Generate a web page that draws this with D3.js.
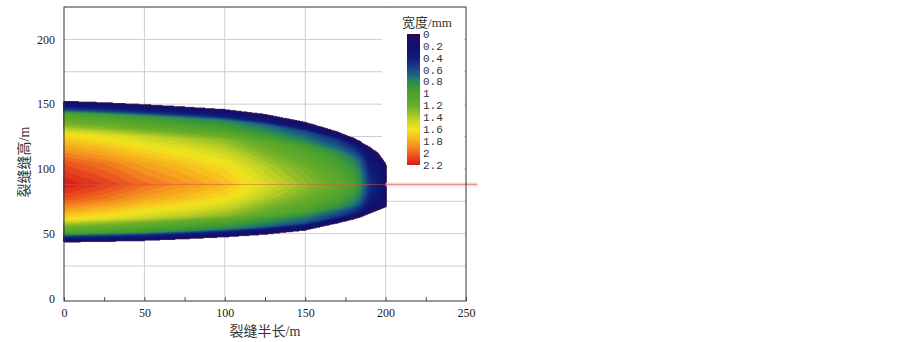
<!DOCTYPE html>
<html lang="zh">
<head>
<meta charset="UTF-8">
<title>裂缝宽度分布</title>
<script src="https://cdn.jsdelivr.net/npm/d3@7/dist/d3.min.js"></script>
<style>
  body { margin: 0; background: #fff; }
  svg { display: block; }
  .tick text { font-family: "Liberation Serif", "Times New Roman", serif; font-size: 12px; fill: #222; }
  .tick line { stroke: #555; }
  .grid line { stroke: #cdcdcd; stroke-width: 1; }
  .cap { font-family: "Liberation Serif", "Noto Sans CJK SC", serif; font-size: 14px; fill: #333; }
  .leg-lab { font-family: "Liberation Mono", "DejaVu Sans Mono", monospace; font-size: 11px; fill: #333; }
</style>
</head>
<body>
<svg width="903" height="342"></svg>
<script>
// stations along the fracture half-length (m)
const stations = [0, 25, 50, 75, 100, 125, 150, 170, 180, 184, 187, 190, 195, 199.5, 200];
// fracture top / bottom (m) at each station
const topEdge = [151.9, 150.8, 149.3, 147.5, 145.5, 141.8, 135.7, 128.4, 123.5, 121, 118.5, 116.5, 112.3, 104.6, 103];
const bottomEdge = [43.8, 44.3, 45, 46.3, 47.8, 49.8, 53, 58.5, 61.5, 63, 64.5, 66, 68.3, 70.6, 71];
// width at the centre depth (mm)
const centerWidth = [2.2, 2.1, 1.97, 1.87, 1.75, 1.52, 1.32, 1.13, 0.98, 0.85, 0.68, 0.5, 0.38, 0.25, 0.15];
const centerDepth = 88;
// vertical width profile: relative distance from centre -> fraction of centre width
const profT = [0, 0.25, 0.45, 0.6, 0.7, 0.8, 0.86, 0.9, 0.95, 1.0];
const profF = [1, 0.93, 0.83, 0.74, 0.6, 0.5, 0.44, 0.27, 0.16, 0.05];

// colour bar
const colorStops = [0, 0.1, 0.2, 0.4, 0.5, 0.6, 0.7, 0.8, 0.9, 1.0, 1.2, 1.3, 1.45, 1.6, 1.75, 1.9, 2.05, 2.2];
const colorHex = ["#2e0b4f", "#1f0d66", "#10106e", "#0f1a78", "#15307f", "#1a4a88", "#1f6a7a", "#2a8a55", "#3d9a35",
  "#4da22c", "#6aae28", "#8cbb28", "#c8d424", "#f2e51e", "#f8bb1e", "#f48a20", "#ea4f1e", "#d81a1a"];
const legendTicks = [0, 0.2, 0.4, 0.6, 0.8, 1, 1.2, 1.4, 1.6, 1.8, 2, 2.2];

const xTicks = [0, 50, 100, 150, 200, 250];
const xMinor = [0, 25, 50, 75, 100, 125, 150, 175, 200, 225, 250];
const yTicks = [0, 50, 100, 150, 200];
const yGrid = [25, 50, 75, 100, 125, 150, 175, 200];
const xGrid = [50, 100, 150, 200];

const svg = d3.select("svg");
const x = d3.scaleLinear().domain([0, 250]).range([64, 466]);
const y = d3.scaleLinear().domain([-2, 225]).range([301, 7]);
const color = d3.scaleLinear().domain(colorStops).range(colorHex).interpolate(d3.interpolateRgb).clamp(true);

function lerp(xs, ys, v) {
    if (v <= xs[0]) return ys[0];
    if (v >= xs[xs.length - 1]) return ys[ys.length - 1];
    const i = d3.bisectRight(xs, v);
    const t = (v - xs[i - 1]) / (xs[i] - xs[i - 1]);
    return ys[i - 1] + t * (ys[i] - ys[i - 1]);
}

function widthAt(xv, yv) {
    if (xv > stations[stations.length - 1]) return 0;
    const top = lerp(stations, topEdge, xv), bot = lerp(stations, bottomEdge, xv);
    if (yv > top || yv < bot) return 0;
    const t = yv >= centerDepth ? (yv - centerDepth) / (top - centerDepth) : (centerDepth - yv) / (centerDepth - bot);
    return lerp(stations, centerWidth, xv) * lerp(profT, profF, t);
}

// grid
svg.append("g").attr("class", "grid")
    .selectAll("line.h").data(yGrid).enter().append("line")
    .attr("x1", x(0)).attr("x2", x(250))
    .attr("y1", d => y(d)).attr("y2", d => y(d));
svg.select("g.grid")
    .selectAll("line.v").data(xGrid).enter().append("line")
    .attr("y1", y(-2)).attr("y2", y(225))
    .attr("x1", d => x(d)).attr("x2", d => x(d));

// legend background (hides gridlines)
svg.append("rect").attr("x", 382).attr("y", 8).attr("width", 82).attr("height", 164).attr("fill", "#fff");

// width field -> filled contours
const gx0 = 0, dx = 0.5, gy0 = 38, dy = 0.5;
const nx = 404, ny = 240;
const values = new Float64Array(nx * ny);
for (let j = 0; j < ny; j++) {
    for (let i = 0; i < nx; i++) {
        values[j * nx + i] = widthAt(gx0 + i * dx, gy0 + j * dy);
    }
}
const thresholds = [0.001].concat(d3.range(0.05, 2.2, 0.05));
const contours = d3.contours().size([nx, ny]).thresholds(thresholds)(values);
const proj = d3.geoTransform({
    point(px, py) { this.stream.point(x(gx0 + (px - 0.5) * dx), y(gy0 + (py - 0.5) * dy)); }
});
const path = d3.geoPath(proj);

svg.append("g").selectAll("path").data(contours).enter().append("path")
    .attr("d", path)
    .attr("fill", d => color(d.value < 0.01 ? 0.02 : d.value + 0.025))
    .attr("stroke", (d, i) => i === 0 ? color(0) : "none")
    .attr("stroke-width", 1);

// reference line at centre depth
svg.append("rect")
    .attr("x", x(200)).attr("width", x(257) - x(200))
    .attr("y", y(centerDepth) - 2).attr("height", 4)
    .attr("fill", "#f7c9c9").attr("opacity", 0.75);
svg.append("line")
    .attr("x1", x(0)).attr("x2", x(257))
    .attr("y1", y(centerDepth)).attr("y2", y(centerDepth))
    .attr("stroke", "#d9534f").attr("stroke-opacity", 0.55).attr("stroke-width", 1);

// axes
const xAxis = svg.append("g").attr("transform", `translate(0,${y(-2)})`)
    .call(d3.axisBottom(x).tickValues(xMinor).tickSize(-4).tickPadding(7)
        .tickFormat(d => xTicks.includes(d) ? d : ""));
xAxis.select(".domain").remove();

const yAxis = svg.append("g").attr("transform", `translate(${x(0)},0)`)
    .call(d3.axisLeft(y).tickValues(yTicks).tickSize(0).tickPadding(9));
yAxis.select(".domain").remove();

// frame
svg.append("rect")
    .attr("x", x(0)).attr("y", y(225))
    .attr("width", x(250) - x(0)).attr("height", y(-2) - y(225))
    .attr("fill", "none").attr("stroke", "#333").attr("stroke-width", 1);

// axis titles
svg.append("text").attr("class", "cap")
    .attr("x", (x(0) + x(250)) / 2).attr("y", 336)
    .attr("text-anchor", "middle").text("裂缝半长/m");
svg.append("text").attr("class", "cap")
    .attr("transform", "translate(24,162) rotate(-90)")
    .attr("text-anchor", "middle").attr("dy", "0.35em").text("裂缝缝高/m");

// colour legend
const ly = d3.scaleLinear().domain([0, 2.2]).range([34, 165]);
const grad = svg.append("defs").append("linearGradient")
    .attr("id", "cbar").attr("x1", 0).attr("x2", 0).attr("y1", 0).attr("y2", 1);
grad.selectAll("stop").data(colorStops).enter().append("stop")
    .attr("offset", d => d / 2.2)
    .attr("stop-color", d => color(d));
svg.append("rect")
    .attr("x", 407).attr("y", ly(0)).attr("width", 13).attr("height", ly(2.2) - ly(0))
    .attr("fill", "url(#cbar)");
svg.append("text").attr("class", "cap").style("font-size", "13px")
    .attr("x", 427).attr("y", 27).attr("text-anchor", "middle").text("宽度/mm");
svg.append("g").selectAll("text").data(legendTicks).enter().append("text")
    .attr("class", "leg-lab")
    .attr("x", 423).attr("y", d => ly(d)).attr("dy", "0.35em")
    .text(d => d);
</script>
</body>
</html>
